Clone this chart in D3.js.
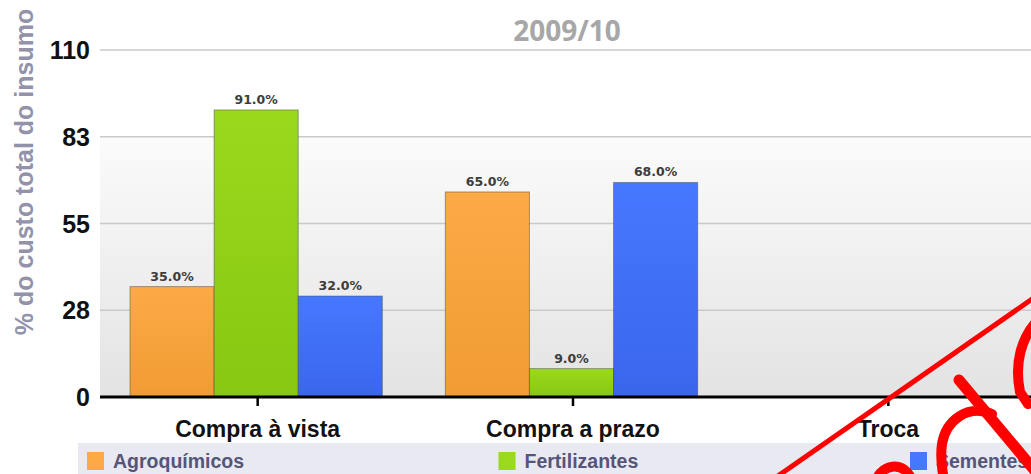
<!DOCTYPE html>
<html>
<head>
<meta charset="utf-8">
<script src="https://cdn.jsdelivr.net/npm/d3@7"></script>
<style>
  body { margin: 0; background: #fff; }
  svg { display: block; }
</style>
</head>
<body>
<div id="chart"></div>
<script>
// chart data
var categories = ['Compra à vista', 'Compra a prazo', 'Troca'];
var seriesNames = ['Agroquímicos', 'Fertilizantes', 'Sementes'];
var agroquimicos = [35, 65, null];
var fertilizantes = [91, 9, null];
var sementes = [32, 68, null];
var yTicks = [0, 27.5, 55, 82.5, 110];
var chartTitle = '2009/10';
var yTitle = '% do custo total do insumo';

var svgWidth = 1031;
var svgHeight = 474;
var margin = { top: 50, right: -15, bottom: 77, left: 100 };
var width = svgWidth - margin.left - margin.right;
var height = svgHeight - margin.top - margin.bottom;

var colors = {
  'Agroquímicos': ['#fbaa46', '#f19c33'],
  'Fertilizantes': ['#9bd91d', '#88c712'],
  'Sementes': ['#4678ff', '#3a66ec'],
};

var svg = d3
  .select('#chart')
  .append('svg')
  .attr('width', svgWidth)
  .attr('height', svgHeight);

var defs = svg.append('defs');

var bg = defs
  .append('linearGradient')
  .attr('id', 'bgGrad')
  .attr('x1', 0).attr('y1', 0).attr('x2', 0).attr('y2', 1);
bg.append('stop').attr('offset', '0%').attr('stop-color', '#fbfbfb');
bg.append('stop').attr('offset', '100%').attr('stop-color', '#e3e3e3');

seriesNames.forEach(function (s, i) {
  var g = defs
    .append('linearGradient')
    .attr('id', 'barGrad' + i)
    .attr('x1', 0).attr('y1', 0).attr('x2', 0).attr('y2', 1);
  g.append('stop').attr('offset', '0%').attr('stop-color', colors[s][0]);
  g.append('stop').attr('offset', '100%').attr('stop-color', colors[s][1]);
});

var chartGroup = svg
  .append('g')
  .attr('transform', `translate(${margin.left}, ${margin.top})`);

// scales
var yScale = d3.scaleLinear().domain([0, 110]).range([height, 0]);
var xScale = d3.scaleBand().domain(categories).range([0, 946]).padding(0);
var xInner = d3
  .scaleBand()
  .domain(seriesNames)
  .range([30, xScale.bandwidth() - 33])
  .padding(0);

// background below the 83 line
chartGroup
  .append('rect')
  .attr('x', 0)
  .attr('y', yScale(82.5))
  .attr('width', width)
  .attr('height', height - yScale(82.5))
  .attr('fill', 'url(#bgGrad)');

// gridlines
chartGroup
  .append('g')
  .selectAll('line')
  .data(yTicks.filter((d) => d > 0))
  .enter()
  .append('line')
  .attr('x1', 0)
  .attr('x2', width)
  .attr('y1', (d) => yScale(d))
  .attr('y2', (d) => yScale(d))
  .attr('stroke', '#c9c9c9')
  .attr('stroke-width', 1.5);

// y tick labels
chartGroup
  .append('g')
  .selectAll('text')
  .data(yTicks)
  .enter()
  .append('text')
  .attr('x', -10)
  .attr('y', (d) => yScale(d))
  .attr('dy', '0.36em')
  .attr('text-anchor', 'end')
  .style('font-family', '"Liberation Sans Narrow", "Arial Narrow", "Liberation Sans", sans-serif')
  .style('font-weight', 'bold')
  .style('font-size', '25px')
  .attr('fill', '#111')
  .text((d) => Math.round(d));

// bars
var rows = categories.map(function (c, i) {
  return {
    category: c,
    values: [
      { series: seriesNames[0], idx: 0, value: agroquimicos[i] },
      { series: seriesNames[1], idx: 1, value: fertilizantes[i] },
      { series: seriesNames[2], idx: 2, value: sementes[i] },
    ].filter((d) => d.value != null),
  };
});

var groups = chartGroup
  .selectAll('.group')
  .data(rows)
  .enter()
  .append('g')
  .attr('class', 'group')
  .attr('transform', (d) => `translate(${xScale(d.category)}, 0)`);

groups
  .selectAll('rect')
  .data((d) => d.values)
  .enter()
  .append('rect')
  .attr('x', (d) => xInner(d.series))
  .attr('y', (d) => yScale(d.value))
  .attr('width', xInner.bandwidth())
  .attr('height', (d) => height - yScale(d.value))
  .attr('fill', (d) => `url(#barGrad${d.idx})`)
  .attr('stroke', 'rgba(60,60,60,0.45)')
  .attr('stroke-width', 1);

groups
  .selectAll('text')
  .data((d) => d.values)
  .enter()
  .append('text')
  .attr('x', (d) => xInner(d.series) + xInner.bandwidth() / 2)
  .attr('y', (d) => yScale(d.value) - 6)
  .attr('text-anchor', 'middle')
  .style('font-family', '"DejaVu Sans", sans-serif')
  .style('font-weight', 'bold')
  .style('font-size', '12.5px')
  .attr('fill', '#3c3c3c')
  .text((d) => d.value.toFixed(1) + '%');

// x axis
chartGroup
  .append('line')
  .attr('x1', 0)
  .attr('x2', width)
  .attr('y1', height)
  .attr('y2', height)
  .attr('stroke', '#000')
  .attr('stroke-width', 3);

var xAxisTicks = chartGroup
  .selectAll('.xtick')
  .data(categories)
  .enter()
  .append('g')
  .attr('class', 'xtick')
  .attr('transform', (d) => `translate(${xScale(d) + xScale.bandwidth() / 2}, ${height})`);

xAxisTicks
  .append('line')
  .attr('y1', 0)
  .attr('y2', 9)
  .attr('stroke', '#000')
  .attr('stroke-width', 2.5);

xAxisTicks
  .append('text')
  .attr('y', 40)
  .attr('text-anchor', 'middle')
  .style('font-family', '"Liberation Sans", Arial, sans-serif')
  .style('font-weight', 'bold')
  .style('font-size', '23px')
  .attr('fill', '#111')
  .text((d) => d);

// title
svg
  .append('text')
  .attr('x', 567)
  .attr('y', 41)
  .attr('text-anchor', 'middle')
  .style('font-family', '"Open Sans", sans-serif')
  .style('font-weight', 'bold')
  .style('font-size', '28px')
  .attr('fill', '#a7a7a7')
  .text(chartTitle);

// y axis title
svg
  .append('text')
  .attr('transform', 'rotate(-90)')
  .attr('x', -172)
  .attr('y', 33)
  .attr('text-anchor', 'middle')
  .style('font-family', '"Liberation Sans", Arial, sans-serif')
  .style('font-weight', 'bold')
  .style('font-size', '25px')
  .attr('fill', '#9292aa')
  .text(yTitle);

// legend
var legend = svg.append('g');
legend
  .append('rect')
  .attr('x', 78)
  .attr('y', 443)
  .attr('width', svgWidth - 78)
  .attr('height', 31)
  .attr('fill', '#e9e9f1');

var legendX = d3.scalePoint().domain(seriesNames).range([87, 910]);

var items = legend
  .selectAll('.item')
  .data(seriesNames)
  .enter()
  .append('g')
  .attr('class', 'item')
  .attr('transform', (d) => `translate(${legendX(d)}, 452)`);

items
  .append('rect')
  .attr('width', 17)
  .attr('height', 18)
  .attr('fill', (d) => colors[d][0]);

items
  .append('text')
  .attr('x', 26)
  .attr('y', 16)
  .style('font-family', '"Liberation Sans", Arial, sans-serif')
  .style('font-weight', 'bold')
  .style('font-size', '19.5px')
  .attr('fill', '#55557a')
  .text((d) => d);

// red hand-drawn marks over the image
var marks = svg
  .append('g')
  .attr('fill', 'none')
  .attr('stroke', '#ff0000')
  .attr('stroke-linecap', 'round');
marks.append('path').attr('d', 'M775,478 L1035,297').attr('stroke-width', 5);
marks.append('path').attr('d', 'M959,380 L1036,472').attr('stroke-width', 11);
marks
  .append('path')
  .attr('d', 'M992,414 C968,404 946,420 942,444 C940,458 942,470 944,480')
  .attr('stroke-width', 10);
marks
  .append('path')
  .attr('d', 'M1036,322 C1022,338 1014,362 1020,392 L1028,404')
  .attr('stroke-width', 10);
marks
  .append('path')
  .attr('d', 'M876,480 C884,463 904,461 912,480')
  .attr('stroke-width', 10);
</script>
</body>
</html>
